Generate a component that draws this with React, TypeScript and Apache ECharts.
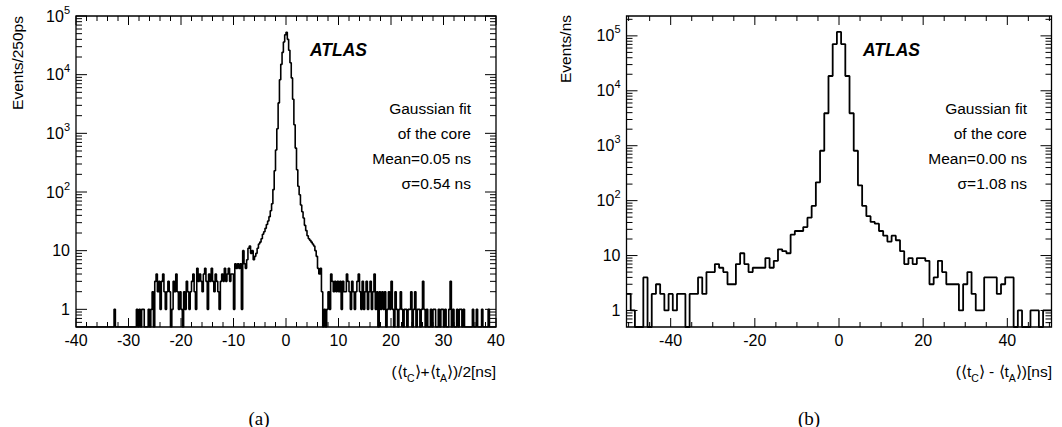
import React, { useEffect, useRef } from "react";
import * as echarts from "echarts";

// ---------------- Panel (a): (<tC>+<tA>)/2, bins of 250 ps ----------------
const A_X_MIN = -40;
const A_X_MAX = 40;
const A_BIN = 0.25;
const A_Y_MIN = 0.5;
const A_Y_MAX = 1e5;
const A_X_LABELS = [-40, -30, -20, -10, 0, 10, 20, 30, 40];

// bins with left edges -40 ... -7.25
const aTailLeft = [
  0, 0, 0, 0, 0, 0, 0, 0, 0, 0, 0, 0, 0, 0, 0, 0, 0, 0, 0, 0, 0, 0, 0, 0, 0, 0, 0, 0, 0,
  1,
  0, 0, 0, 0, 0, 0, 0, 0, 0, 0, 0, 0, 0, 0, 0, 0,
  1, 0, 1, 0, 1, 1, 0, 0, 0, 1, 0, 1, 2, 0, 3,
  4, 2, 3, 1, 3, 4, 2, 1, 2, 3, 2, 0, 1, 3, 2, 4, 2, 1, 2,
  1, 0, 2, 1, 3, 2, 1, 2, 3, 4, 2, 1, 5, 3, 4, 3, 2, 4, 5, 3,
  1, 4, 3, 5, 3, 2, 4, 3, 2, 1, 3, 4, 3, 5, 3, 4, 5, 3, 4, 4,
  1, 6, 5, 6, 5, 6, 1, 10, 6, 5, 7, 11,
];
// bins with left edges -7 ... 6.75
const aCore = [
  12, 9, 10, 7, 8, 9, 11, 13, 14, 16, 19, 21, 24, 28, 32, 38,
  48, 63, 110, 230, 520, 1200, 3300, 8200, 15000, 24000, 36000, 48000,
  53000, 40000, 26000, 16000, 8800, 3800, 1400, 560, 240, 125, 90, 60,
  46, 36, 27, 22, 18, 16, 15, 14, 13, 12, 10, 8, 5, 4, 5, 2,
];
// bins with left edges 7 ... 39.75
const aTailRight = [
  0, 1,
  0, 1, 2, 1,
  4, 3, 2, 3, 2, 3,
  2, 3, 1, 3, 2, 2, 4, 3,
  2, 1, 3, 2, 1, 2, 3, 4,
  2, 1, 3, 1, 2, 3, 1, 2,
  3, 1, 2, 4, 1, 2, 0, 2,
  1, 2, 1, 2, 0, 1, 2, 1,
  3, 1, 0, 2,
  1, 0, 1, 2, 1, 0, 1, 1,
  0, 1, 1, 2, 0, 1, 2, 0,
  1, 1, 0, 1, 3, 1, 0, 1,
  0, 0, 1, 0, 1, 1, 0, 0,
  1, 0, 1, 1, 0, 1, 0, 0,
  1, 3, 0, 1, 0, 0, 1, 0,
  1, 1, 0, 1, 0, 0, 0, 0,
  0, 0, 1, 0, 0, 1, 0, 0,
  0, 1, 0, 0, 0, 0, 1, 0,
  0, 0, 0, 0,
];

// ---------------- Panel (b): <tC>-<tA>, bins of 1 ns ----------------
const B_X_MIN = -50.5;
const B_X_MAX = 50.5;
const B_BIN = 1;
const B_Y_MIN = 0.5;
const B_Y_MAX = 2.3e5;
const B_X_LABELS = [-40, -20, 0, 20, 40];
// bins centred on -50 ... 50
const bCounts = [
  2, 1, 0, 0, 4, 0, 2, 3, 2, 1,
  2, 1, 2, 2, 0, 2, 2, 4, 2, 5,
  5, 7, 6, 5, 3, 3, 7, 11, 7, 5,
  6, 6, 6, 9, 6, 8, 13, 12, 11, 24,
  28, 28, 33, 49, 80, 215, 810, 3900, 18600, 71000,
  118000,
  71000, 18600, 3900, 810, 190, 80, 52, 41, 38, 28,
  23, 18, 23, 19, 12, 7, 9, 7, 9, 9,
  8, 3, 4, 8, 5, 3, 3, 3, 1, 3,
  5, 2, 1, 1, 4, 4, 4, 2, 3, 4,
  4, 0, 1, 0, 0, 1, 1, 0, 1, 1,
];

const SANS = "Liberation Sans, Arial, Helvetica, sans-serif";
const SERIF = "Liberation Serif, Times New Roman, Times, serif";

function stepPoints(counts: number[], x0: number, w: number, floor: number) {
  const pts = counts.map((c, i) => [x0 + i * w, c > 0 ? c : floor]);
  const last = counts[counts.length - 1];
  pts.push([x0 + counts.length * w, last > 0 ? last : floor]);
  return pts;
}

function linTicks(min: number, max: number, step: number, skip: number) {
  const out: number[] = [];
  const start = Math.ceil(min / step - 1e-9);
  const end = Math.floor(max / step + 1e-9);
  for (let k = start; k <= end; k++) {
    const v = k * step;
    if (skip > 0 && Math.abs(v / skip - Math.round(v / skip)) < 1e-9) continue;
    out.push(v);
  }
  return out;
}
function logMajor(min: number, max: number) {
  const out: number[] = [];
  for (let e = -2; e <= 7; e++) {
    const v = Math.pow(10, e);
    if (v >= min && v <= max) out.push(v);
  }
  return out;
}
function logMinor(min: number, max: number) {
  const out: number[] = [];
  for (let e = -2; e <= 7; e++)
    for (let k = 2; k <= 9; k++) {
      const v = k * Math.pow(10, e);
      if (v > min && v < max) out.push(v);
    }
  return out;
}

function tickSeries(
  idx: number,
  xr: [number, number],
  yr: [number, number],
  xMajor: number[],
  xMinor: number[]
) {
  const yMajor = logMajor(yr[0], yr[1]);
  const yMinor = logMinor(yr[0], yr[1]);
  return {
    type: "custom",
    xAxisIndex: idx,
    yAxisIndex: idx,
    silent: true,
    clip: false,
    z: 5,
    data: [[0, 1]],
    renderItem: (_p: any, api: any) => {
      const children: any[] = [];
      const line = (x1: number, y1: number, x2: number, y2: number) =>
        children.push({
          type: "line",
          shape: { x1, y1, x2, y2 },
          style: { stroke: "#000", lineWidth: 1 },
        });
      const xt = (vals: number[], len: number) =>
        vals.forEach((v) => {
          const b = api.coord([v, yr[0]]);
          const t = api.coord([v, yr[1]]);
          line(b[0], b[1], b[0], b[1] - len);
          line(t[0], t[1], t[0], t[1] + len);
        });
      const yt = (vals: number[], len: number) =>
        vals.forEach((v) => {
          const l = api.coord([xr[0], v]);
          const r = api.coord([xr[1], v]);
          line(l[0], l[1], l[0] + len, l[1]);
          line(r[0], r[1], r[0] - len, r[1]);
        });
      xt(xMajor, 9);
      xt(xMinor, 5);
      yt(yMajor, 11);
      yt(yMinor, 6);
      return { type: "group", children };
    },
  };
}

const yLabelFormatter = (v: number) => {
  const e = Math.log10(v);
  const r = Math.round(e);
  if (Math.abs(e - r) > 1e-6) return "";
  if (r === 0) return "{m|1}";
  if (r === 1) return "{m|10}";
  return `{n|10}{s|${r}}`;
};
const yRich = {
  m: { fontSize: 16, fontFamily: SANS, color: "#000" },
  n: { fontSize: 16, fontFamily: SANS, color: "#000", padding: [4, 0, 4, 0] },
  s: { fontSize: 11, fontFamily: SANS, color: "#000", verticalAlign: "top" },
};

function xAxisCfg(idx: number, min: number, max: number, labels: number[]) {
  return {
    type: "value",
    gridIndex: idx,
    min,
    max,
    axisLine: { show: false },
    axisTick: { show: false },
    splitLine: { show: false },
    axisLabel: {
      customValues: labels,
      fontSize: 16,
      fontFamily: SANS,
      color: "#000",
      margin: 5,
    },
  };
}
function yAxisCfg(idx: number, min: number, max: number) {
  return {
    type: "log",
    logBase: 10,
    gridIndex: idx,
    min,
    max,
    axisLine: { show: false },
    axisTick: { show: false },
    splitLine: { show: false },
    minorTick: { show: false },
    axisLabel: {
      formatter: yLabelFormatter,
      rich: yRich,
      margin: 6,
      showMinLabel: true,
      showMaxLabel: true,
    },
  };
}

const xTitleRich = {
  b: { fontSize: 15.5, fontFamily: SANS, color: "#000", padding: [0, 0, 4, 0] },
  u: { fontSize: 10.5, fontFamily: SANS, color: "#000", verticalAlign: "bottom" },
};

function text(x: number, y: number, t: string, extra: any = {}) {
  return {
    type: "text",
    x,
    y,
    silent: true,
    style: {
      text: t,
      fill: "#000",
      fontSize: 15.5,
      fontFamily: SANS,
      align: "right",
      verticalAlign: "middle",
      ...extra,
    },
  };
}

function buildOption() {
  const aCounts = [...aTailLeft, ...aCore, ...aTailRight];
  const aData = stepPoints(aCounts, A_X_MIN, A_BIN, A_Y_MIN);
  const bData = stepPoints(bCounts, B_X_MIN, B_BIN, B_Y_MIN);

  const infoA = ["Gaussian fit", "of the core", "Mean=0.05 ns", "σ=0.54 ns"];
  const infoB = ["Gaussian fit", "of the core", "Mean=0.00 ns", "σ=1.08 ns"];
  const infoY = [108, 133, 158, 183];

  const graphics: any[] = [
    text(17, 16, "Events/250ps", { align: "right" }),
    text(565, 15, "Events/ns", { align: "right" }),
    text(310, 50, "ATLAS", { align: "left", fontWeight: "bold", fontStyle: "italic", fontSize: 17.5 }),
    text(863, 50, "ATLAS", { align: "left", fontWeight: "bold", fontStyle: "italic", fontSize: 17.5 }),
    ...infoA.map((t, i) => text(471, infoY[i], t)),
    ...infoB.map((t, i) => text(1027, infoY[i], t)),
    text(496, 373, "{b|(⟨t}{u|C}{b|⟩+⟨t}{u|A}{b|⟩)/2[ns]}", { rich: xTitleRich }),
    text(1052, 373, "{b|(⟨t}{u|C}{b|⟩ - ⟨t}{u|A}{b|⟩)[ns]}", { rich: xTitleRich }),
    text(259, 418, "(a)", { align: "center", fontFamily: SERIF, fontSize: 19 }),
    text(809, 418, "(b)", { align: "center", fontFamily: SERIF, fontSize: 19 }),
  ];
  graphics[0].rotation = Math.PI / 2;
  graphics[1].rotation = Math.PI / 2;

  return {
    animation: false,
    backgroundColor: "#fff",
    textStyle: { fontFamily: SANS },
    grid: [
      { left: 76, top: 16, width: 420, height: 311, show: true, borderColor: "#000", borderWidth: 1.3, backgroundColor: "transparent" },
      { left: 626.5, top: 16, width: 425, height: 311, show: true, borderColor: "#000", borderWidth: 1.3, backgroundColor: "transparent" },
    ],
    xAxis: [
      xAxisCfg(0, A_X_MIN, A_X_MAX, A_X_LABELS),
      xAxisCfg(1, B_X_MIN, B_X_MAX, B_X_LABELS),
    ],
    yAxis: [yAxisCfg(0, A_Y_MIN, A_Y_MAX), yAxisCfg(1, B_Y_MIN, B_Y_MAX)],
    series: [
      {
        type: "line",
        xAxisIndex: 0,
        yAxisIndex: 0,
        step: "end",
        data: aData,
        symbol: "none",
        clip: true,
        lineStyle: { color: "#000", width: 1.6 },
        z: 3,
      },
      {
        type: "line",
        xAxisIndex: 1,
        yAxisIndex: 1,
        step: "end",
        data: bData,
        symbol: "none",
        clip: true,
        lineStyle: { color: "#000", width: 1.8 },
        z: 3,
      },
      tickSeries(0, [A_X_MIN, A_X_MAX], [A_Y_MIN, A_Y_MAX], linTicks(A_X_MIN, A_X_MAX, 10, 0), linTicks(A_X_MIN, A_X_MAX, 2, 10)),
      tickSeries(1, [B_X_MIN, B_X_MAX], [B_Y_MIN, B_Y_MAX], linTicks(B_X_MIN, B_X_MAX, 20, 0), linTicks(B_X_MIN, B_X_MAX, 5, 20)),
    ],
    graphic: graphics,
  };
}

export default function App() {
  const ref = useRef<HTMLDivElement>(null);
  useEffect(() => {
    if (!ref.current) return;
    const chart = echarts.init(ref.current, undefined, { renderer: "svg" });
    chart.setOption(buildOption() as any);
    return () => chart.dispose();
  }, []);
  return (
    <div
      ref={ref}
      style={{ position: "fixed", left: 0, top: 0, width: 1062, height: 427, background: "#fff" }}
    />
  );
}
